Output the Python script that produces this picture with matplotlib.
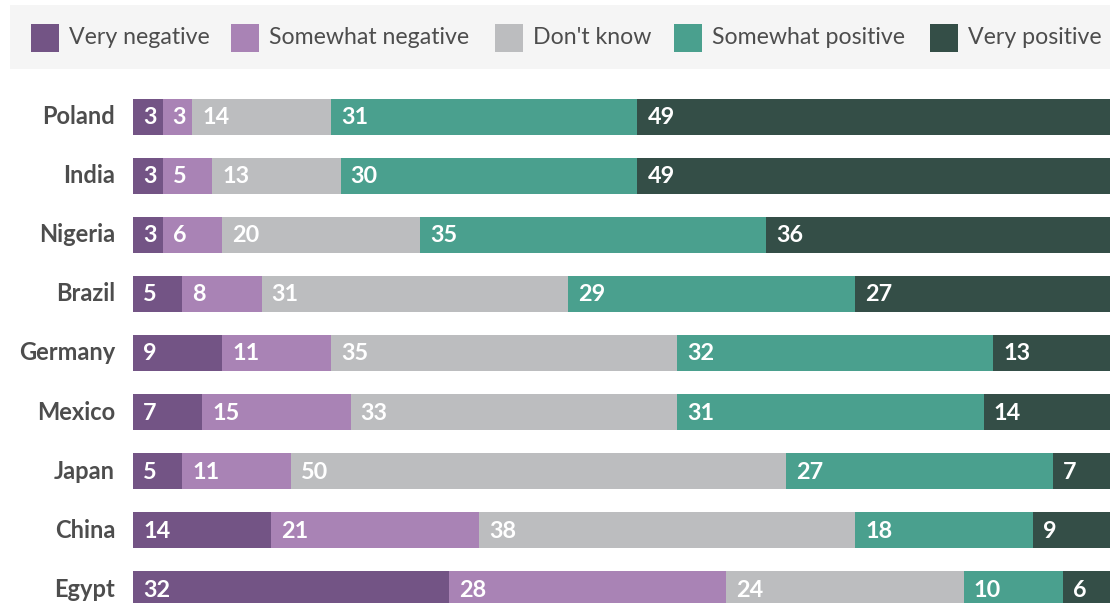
import matplotlib
matplotlib.use("Agg")
import matplotlib.pyplot as plt
from matplotlib.patches import Rectangle
import numpy as np

plt.rcParams['font.family'] = ['Lato', 'DejaVu Sans']

countries = ["Poland", "India", "Nigeria", "Brazil", "Germany", "Mexico", "Japan", "China", "Egypt"]
categories = ["Very negative", "Somewhat negative", "Don't know", "Somewhat positive", "Very positive"]
very_negative = [3, 3, 3, 5, 9, 7, 5, 14, 32]
somewhat_negative = [3, 5, 6, 8, 11, 15, 11, 21, 28]
dont_know = [14, 13, 20, 31, 35, 33, 50, 38, 24]
somewhat_positive = [31, 30, 35, 29, 32, 31, 27, 18, 10]
very_positive = [49, 49, 36, 27, 13, 14, 7, 9, 6]

colors = ["#735485", "#a983b5", "#bcbdbf", "#4aa08e", "#344e47"]
series = [very_negative, somewhat_negative, dont_know, somewhat_positive, very_positive]

W, H = 1110, 603
fig = plt.figure(figsize=(W / 100, H / 100), dpi=100)
fig.patch.set_facecolor("white")

ax = fig.add_axes([133 / W, 0, (1122 - 133) / W, 1])
ax.set_xlim(0, 100)
ax.set_ylim(8.232, -1.975)
ax.axis("off")

y = np.arange(len(countries))
left = np.zeros(len(countries))
for vals, col in zip(series, colors):
    vals = np.array(vals, dtype=float)
    ax.barh(y, vals, left=left, height=0.61, color=col, linewidth=0)
    for yi, (l, v) in enumerate(zip(left, vals)):
        ax.annotate(f"{int(v)}", xy=(l, yi), xytext=(10, -1), textcoords="offset pixels",
                    ha="left", va="center", color="white", fontsize=16.8,
                    fontweight="bold", clip_on=False)
    left += vals

for yi, c in enumerate(countries):
    ax.annotate(c, xy=(0, yi), xytext=(-18, 0), textcoords="offset pixels",
                ha="right", va="center", color="#4d4d4d", fontsize=17,
                fontweight="bold", annotation_clip=False)

# legend band
fig.patches.append(Rectangle((10 / W, 1 - 69 / H), 1.1, 64 / H, transform=fig.transFigure,
                             facecolor="#f5f5f5", edgecolor="none", zorder=0))
sq_x = [31, 231, 495, 674, 930]
sq_size = 28
sq_top = 24
for x0, lab, col in zip(sq_x, categories, colors):
    fig.patches.append(Rectangle((x0 / W, 1 - (sq_top + sq_size) / H), sq_size / W, sq_size / H,
                                 transform=fig.transFigure, facecolor=col, edgecolor="none", zorder=1))
    fig.text((x0 + sq_size + 10) / W, 1 - (sq_top + sq_size / 2) / H, lab,
             ha="left", va="center", color="#4d4d4d", fontsize=16.7)

fig.savefig("out.png", dpi=100)
